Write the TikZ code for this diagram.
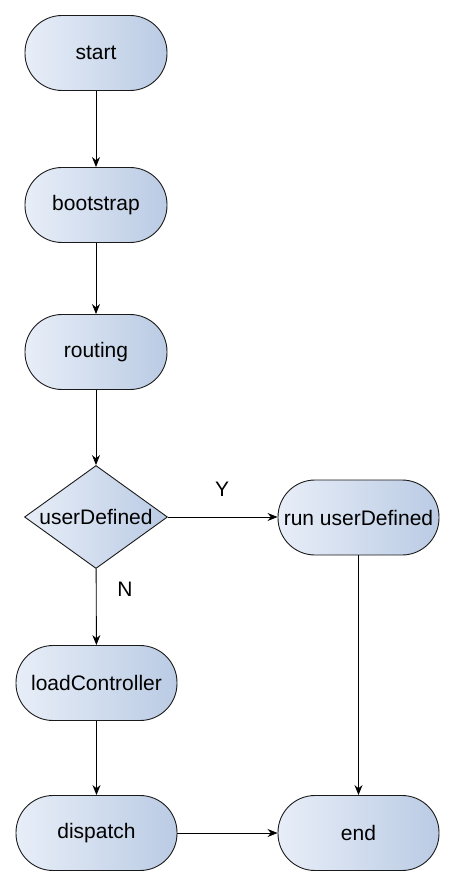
\documentclass[tikz,border=0pt]{standalone}
\usepackage{fontspec}
\setmainfont{Liberation Sans}
\usetikzlibrary{shapes.geometric,arrows.meta}
\definecolor{gradL}{HTML}{E8EEF8}
\definecolor{gradR}{HTML}{BACBE4}
\definecolor{edge}{HTML}{1A1A1A}
\tikzset{
  boxbase/.style={draw=edge, line width=0.9pt, left color=gradL, right color=gradR,
    font=\fontsize{21}{25}\selectfont, inner sep=0pt},
  pill/.style={boxbase, rectangle, rounded corners=37pt, minimum width=142pt, minimum height=75pt},
  widepill/.style={pill, minimum width=161pt},
  decision/.style={boxbase, diamond, minimum width=143pt, minimum height=103pt},
  conn/.style={line width=0.9pt, -{Stealth[length=10pt,width=8pt]}},
  lbl/.style={font=\fontsize{21}{25}\selectfont}
}
\begin{document}
\begin{tikzpicture}[x=1pt,y=-1pt]
\useasboundingbox (0,0) rectangle (454,885);
\node[pill] (start) at (96,53) {start};
\node[pill] (boot) at (96,205) {bootstrap};
\node[pill] (route) at (96,352) {routing};
\node[decision, label={center:{\fontsize{21}{25}\selectfont userDefined}}] (ud) at (96,517) {};
\node[widepill] (run) at (358.5,517.5) {run userDefined};
\node[widepill] (load) at (96.5,683) {loadController};
\node[widepill] (disp) at (96.5,833) {dispatch};
\node[widepill] (end) at (358.5,833) {end};
\draw[conn] (start) -- (boot);
\draw[conn] (boot) -- (route);
\draw[conn] (route) -- (ud);
\draw[conn] (ud.east) -- (run.west |- ud.east);
\draw[conn] (ud) -- (load);
\draw[conn] (load) -- (disp);
\draw[conn] (run) -- (end);
\draw[conn] (disp) -- (end);
\node[lbl] (ylab) at (222,489) {Y};
\node[lbl] (nlab) at (125,589) {N};
\end{tikzpicture}
\end{document}
